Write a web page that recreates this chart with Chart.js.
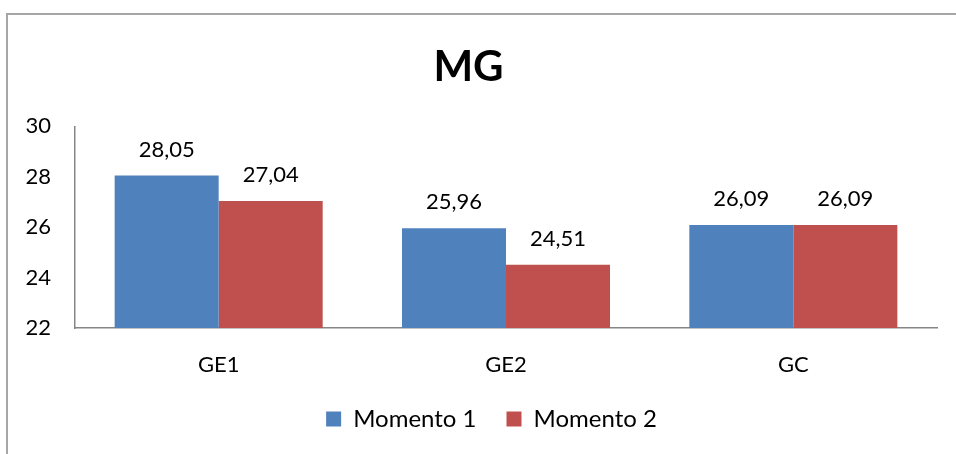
<!DOCTYPE html>
<html>
<head>
<meta charset="utf-8">
<script src="https://cdn.jsdelivr.net/npm/chart.js@4/dist/chart.umd.min.js"></script>
<style>
  html, body { margin: 0; padding: 0; background: #fff; }
  #wrap { width: 956px; height: 454px; position: relative; }
</style>
</head>
<body>
<div id="wrap"><canvas id="mgChart" width="956" height="454"></canvas></div>
<script>
// chart data
const categories = ["GE1", "GE2", "GC"];
const seriesNames = ["Momento 1", "Momento 2"];
const momento1 = [28.05, 25.96, 26.09];
const momento2 = [27.04, 24.51, 26.09];
const yTicks = [22, 24, 26, 28, 30];

const FONT = "Lato, 'Open Sans', sans-serif";
const PLOT_BOTTOM = 328;

//Format number the portuguese way - comma as decimal sep
function fmt(v) {
  return v.toFixed(2).replace(".", ",");
}

//Outer frame of the chart object (only top + left visible)
const framePlugin = {
  id: "frame",
  beforeDraw(chart) {
    const ctx = chart.ctx;
    ctx.save();
    ctx.strokeStyle = "#a6a6a6";
    ctx.lineWidth = 2;
    ctx.beginPath();
    ctx.moveTo(956, 14);
    ctx.lineTo(7, 14);
    ctx.lineTo(7, 454);
    ctx.stroke();
    ctx.restore();
  },
  //legend in the original sits a bit right of centre and a bit higher
  afterLayout(chart) {
    const lg = chart.legend;
    if (lg) {
      lg.left += 23;
      lg.right += 23;
      lg.top -= 13;
      lg.bottom -= 13;
    }
  },
};

//Value labels above each bar
const valueLabels = {
  id: "valueLabels",
  afterDatasetsDraw(chart) {
    const ctx = chart.ctx;
    ctx.save();
    ctx.font = "22px " + FONT;
    ctx.fillStyle = "#000";
    ctx.textAlign = "center";
    ctx.textBaseline = "middle";
    chart.data.datasets.forEach((ds, i) => {
      chart.getDatasetMeta(i).data.forEach((bar, j) => {
        ctx.fillText(fmt(ds.data[j]), bar.x, bar.y - 26);
      });
    });
    ctx.restore();
  },
};

new Chart(document.getElementById("mgChart"), {
  type: "bar",
  data: {
    labels: categories,
    datasets: [
      { label: seriesNames[0], data: momento1, backgroundColor: "#4F81BD" },
      { label: seriesNames[1], data: momento2, backgroundColor: "#C0504D" },
    ],
  },
  options: {
    responsive: false,
    animation: false,
    events: [],
    categoryPercentage: 0.724,
    barPercentage: 1,
    layout: { padding: { left: 0, right: 19, top: 0, bottom: 0 } },
    plugins: {
      title: {
        display: true,
        text: "MG",
        color: "#000",
        font: { family: FONT, size: 42, weight: "bold" },
        padding: { top: 42, bottom: 34 },
      },
      legend: {
        position: "bottom",
        labels: {
          color: "#000",
          font: { family: FONT, size: 24 },
          boxWidth: 15,
          boxHeight: 15,
          padding: 30,
        },
      },
      tooltip: { enabled: false },
    },
    scales: {
      x: {
        grid: { display: false, drawTicks: false },
        border: { display: true, color: "#868686", width: 1.5 },
        ticks: { color: "#000", font: { family: FONT, size: 22 }, padding: 24 },
        //keep the plot bottom fixed whatever the legend takes
        afterFit(scale) {
          const lg = scale.chart.legend;
          scale.height = 454 - PLOT_BOTTOM - (lg ? lg.height : 0);
        },
      },
      y: {
        min: yTicks[0],
        max: yTicks[yTicks.length - 1],
        grid: { display: false, drawTicks: false },
        border: { display: true, color: "#868686", width: 1.5 },
        ticks: {
          color: "#000",
          font: { family: FONT, size: 22 },
          stepSize: 2,
          padding: 24,
        },
        afterFit(scale) { scale.width = 75; },
      },
    },
  },
  plugins: [framePlugin, valueLabels],
});
</script>
</body>
</html>
